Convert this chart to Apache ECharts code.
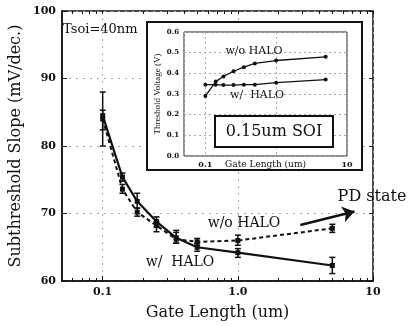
<!DOCTYPE html>
<html><head><meta charset="utf-8">
<script src="https://cdn.jsdelivr.net/npm/echarts@6/dist/echarts.min.js"></script>
<style>html,body{margin:0;padding:0;background:#fff}#c{width:408px;height:326px}</style>
</head><body><div id="c"></div>
<script>
const gateLength = [0.1, 0.14, 0.18, 0.25, 0.35, 0.5, 1.0, 5.0];
const ssWithHalo = [84.5, 75.4, 71.8, 68.8, 66.4, 65.0, 64.2, 62.3];
const ssWithHaloLow = [80.0, 74.8, 70.8, 68.0, 65.6, 64.4, 63.5, 61.1];
const ssWithHaloHigh = [88.0, 76.0, 73.0, 69.5, 67.2, 65.6, 64.8, 63.5];
const ssNoHalo = [84.0, 73.6, 70.2, 68.2, 66.2, 65.8, 66.0, 67.8];
const ssNoHaloLow = [82.4, 73.0, 69.6, 67.3, 65.6, 65.3, 65.3, 67.2];
const ssNoHaloHigh = [85.3, 74.3, 70.8, 68.8, 67.5, 66.3, 66.8, 68.4];
const vtNoHalo = [0.29, 0.36, 0.385, 0.41, 0.43, 0.448, 0.462, 0.48];
const vtWithHalo = [0.345, 0.345, 0.343, 0.343, 0.345, 0.345, 0.355, 0.37];
const xMajorTicks = [0.1, 1, 10];
const xMinorTicks = [0.06,0.07,0.08,0.09,0.2,0.3,0.4,0.5,0.6,0.7,0.8,0.9,2,3,4,5,6,7,8,9];
const arrowFrom = [2.9, 68.3];
const arrowTo = [7.3, 70.3];

const SERIF = 'DejaVu Serif';
const ink = '#111';
const gridCol = '#aaa';
const fmtX = v => { const e = Math.round(Math.log10(v)); return e === -1 ? '0.1' : e === 0 ? '1.0' : '10'; };

function errBars(lo, hi) {
  return gateLength.map((x, i) => [x, lo[i], hi[i]]);
}
function renderErr(params, api) {
  const x = api.value(0), p1 = api.coord([x, api.value(1)]), p2 = api.coord([x, api.value(2)]);
  const w = 3, st = {stroke: ink, lineWidth: 1.5};
  return {type: 'group', children: [
    {type: 'line', shape: {x1: p1[0], y1: p1[1], x2: p2[0], y2: p2[1]}, style: st},
    {type: 'line', shape: {x1: p1[0]-w, y1: p1[1], x2: p1[0]+w, y2: p1[1]}, style: st},
    {type: 'line', shape: {x1: p2[0]-w, y1: p2[1], x2: p2[0]+w, y2: p2[1]}, style: st}
  ]};
}
const pairs = (ys) => gateLength.map((x, i) => [x, ys[i]]);

const chart = echarts.init(document.getElementById('c'), null, {renderer: 'canvas'});
const baseX = {type: 'log', logBase: 10, min: 0.05, max: 10};
chart.setOption({
  animation: false,
  grid: [
    {left: 58, top: 11, width: 315, height: 270, show: true, borderColor: ink, borderWidth: 1.5, backgroundColor: 'transparent'},
    {left: 184, top: 32, width: 163, height: 124, show: true, borderColor: '#222', borderWidth: 1, z: 3}
  ],
  xAxis: [
    Object.assign({}, baseX, {gridIndex: 0, position: 'bottom',
      name: 'Gate Length (um)', nameLocation: 'middle', nameGap: 24, nameMoveOverlap: false,
      nameTextStyle: {fontFamily: SERIF, fontSize: 16, color: ink},
      axisLine: {show: true, lineStyle: {color: ink, width: 1.5}},
      axisTick: {show: true, inside: true, length: 5, customValues: xMajorTicks, lineStyle: {color: ink}},
      axisLabel: {customValues: xMajorTicks, formatter: fmtX, fontFamily: SERIF, fontWeight: 'bold', fontSize: 11, color: ink, margin: 6},
      splitLine: {show: true, lineStyle: {color: gridCol, type: [2, 5], width: 1}}}),
    Object.assign({}, baseX, {gridIndex: 0, position: 'bottom',
      axisLine: {show: false}, axisLabel: {show: false}, splitLine: {show: false},
      axisTick: {show: true, inside: true, length: 3, customValues: xMinorTicks, lineStyle: {color: ink}}}),
    Object.assign({}, baseX, {gridIndex: 0, position: 'top',
      axisLine: {show: false}, axisLabel: {show: false}, splitLine: {show: false},
      axisTick: {show: true, inside: true, length: 3, customValues: xMinorTicks.concat(xMajorTicks), lineStyle: {color: ink}}}),
    Object.assign({}, baseX, {gridIndex: 1, position: 'bottom', z: 4,
      name: 'Gate Length (um)', nameLocation: 'middle', nameGap: 4, nameMoveOverlap: false,
      nameTextStyle: {fontFamily: SERIF, fontSize: 9, color: ink},
      axisLine: {show: false}, axisTick: {show: false},
      axisLabel: {customValues: [0.1, 10], formatter: fmtX, fontFamily: SERIF, fontWeight: 'bold', fontSize: 8, color: ink, margin: 5},
      splitLine: {show: true, lineStyle: {color: gridCol, type: [2, 3], width: 1}}})
  ],
  yAxis: [
    {type: 'value', gridIndex: 0, min: 60, max: 100, interval: 10,
      name: 'Subthreshold Slope (mV/dec.)', nameLocation: 'middle', nameGap: 38, nameMoveOverlap: false,
      nameTextStyle: {fontFamily: SERIF, fontSize: 16, color: ink},
      axisLine: {show: true, lineStyle: {color: ink, width: 1.5}},
      axisTick: {show: true, inside: true, length: 5, lineStyle: {color: ink}},
      axisLabel: {fontFamily: SERIF, fontWeight: 'bold', fontSize: 11, color: ink, margin: 6},
      splitLine: {show: true, lineStyle: {color: gridCol, type: [2, 5], width: 1}}},
    {type: 'value', gridIndex: 0, min: 60, max: 100, interval: 10, position: 'right',
      axisLine: {show: false}, axisLabel: {show: false}, splitLine: {show: false},
      axisTick: {show: true, inside: true, length: 4, lineStyle: {color: ink}}},
    {type: 'value', gridIndex: 1, min: 0, max: 0.6, interval: 0.1, z: 4,
      name: 'Threshold Voltage (V)', nameLocation: 'middle', nameGap: 22, nameMoveOverlap: false,
      nameTextStyle: {fontFamily: 'Liberation Serif', fontSize: 9, color: ink},
      axisLine: {show: false}, axisTick: {show: false},
      axisLabel: {formatter: v => v.toFixed(1), fontFamily: SERIF, fontWeight: 'bold', fontSize: 7, color: ink, margin: 5},
      splitLine: {show: true, lineStyle: {color: gridCol, type: [2, 3], width: 1}}}
  ],
  graphic: [
    {type: 'rect', z: 1, shape: {x: 147, y: 22, width: 215, height: 148}, style: {fill: '#fff', stroke: ink, lineWidth: 2}},
    {type: 'rect', z: 10, shape: {x: 215, y: 116, width: 118, height: 31}, style: {fill: '#fff', stroke: ink, lineWidth: 2}},
    {type: 'text', z: 11, x: 274, y: 132, style: {text: '0.15um SOI', font: '16px "DejaVu Serif"', fill: ink, align: 'center', verticalAlign: 'middle'}},
    {type: 'text', z: 11, x: 254, y: 51, style: {text: 'w/o HALO', font: '11px "DejaVu Serif"', fill: ink, align: 'center', verticalAlign: 'middle'}},
    {type: 'text', z: 11, x: 257, y: 95, style: {text: 'w/  HALO', font: '11px "DejaVu Serif"', fill: ink, align: 'center', verticalAlign: 'middle'}},
    {type: 'text', z: 11, x: 63, y: 30, style: {text: 'Tsoi=40nm', font: '13px "DejaVu Serif"', fill: ink, align: 'left', verticalAlign: 'middle'}},
    {type: 'text', z: 11, x: 244, y: 223, style: {text: 'w/o HALO', font: '14px "DejaVu Serif"', fill: ink, align: 'center', verticalAlign: 'middle'}},
    {type: 'text', z: 11, x: 180, y: 262, style: {text: 'w/  HALO', font: '14px "DejaVu Serif"', fill: ink, align: 'center', verticalAlign: 'middle'}},
    {type: 'text', z: 11, x: 372, y: 197, style: {text: 'PD state', font: '16px "DejaVu Serif"', fill: ink, align: 'center', verticalAlign: 'middle'}}
  ],
  series: [
    {type: 'line', xAxisIndex: 0, yAxisIndex: 0, data: pairs(ssWithHalo), symbol: 'rect', symbolSize: 5,
      lineStyle: {color: ink, width: 2.2}, itemStyle: {color: ink}, z: 5},
    {type: 'line', xAxisIndex: 0, yAxisIndex: 0, data: pairs(ssNoHalo), symbol: 'rect', symbolSize: 5,
      lineStyle: {color: ink, width: 2, type: [4, 3]}, itemStyle: {color: ink}, z: 5,
      markLine: {silent: true, symbol: ['none', 'arrow'], symbolSize: 12, label: {show: false},
        lineStyle: {color: ink, width: 2.5, type: 'solid'}, itemStyle: {color: ink},
        data: [[{coord: arrowFrom}, {coord: arrowTo}]]}},
    {type: 'custom', xAxisIndex: 0, yAxisIndex: 0, renderItem: renderErr, data: errBars(ssWithHaloLow, ssWithHaloHigh), encode: {x: 0, y: [1, 2]}, z: 6},
    {type: 'custom', xAxisIndex: 0, yAxisIndex: 0, renderItem: renderErr, data: errBars(ssNoHaloLow, ssNoHaloHigh), encode: {x: 0, y: [1, 2]}, z: 6},
    {type: 'line', xAxisIndex: 3, yAxisIndex: 2, data: pairs(vtNoHalo), symbol: 'circle', symbolSize: 4,
      lineStyle: {color: ink, width: 1.3}, itemStyle: {color: ink}, z: 8},
    {type: 'line', xAxisIndex: 3, yAxisIndex: 2, data: pairs(vtWithHalo), symbol: 'circle', symbolSize: 4,
      lineStyle: {color: ink, width: 1.3}, itemStyle: {color: ink}, z: 8}
  ]
});
</script></body></html>
